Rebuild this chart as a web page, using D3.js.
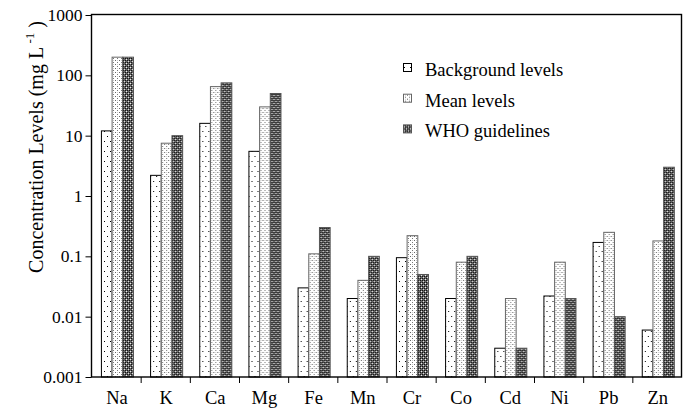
<!DOCTYPE html>
<html>
<head>
<meta charset="utf-8">
<script src="https://cdn.jsdelivr.net/npm/d3@7"></script>
<style>
  body { margin: 0; background: #fff; }
  text { font-family: "Liberation Serif", "Times New Roman", serif; fill: #000; }
</style>
</head>
<body>
<svg id="chart" width="688" height="414"></svg>
<script>
// data
var elements = ["Na", "K", "Ca", "Mg", "Fe", "Mn", "Cr", "Co", "Cd", "Ni", "Pb", "Zn"];
var seriesNames = ["Background levels", "Mean levels", "WHO guidelines"];
var background = [12, 2.2, 16, 5.5, 0.03, 0.02, 0.095, 0.02, 0.003, 0.022, 0.17, 0.006];
var meanLevels = [200, 7.5, 65, 30, 0.11, 0.04, 0.22, 0.08, 0.02, 0.08, 0.25, 0.18];
var who = [200, 10, 75, 50, 0.3, 0.1, 0.05, 0.1, 0.003, 0.02, 0.01, 3];
var yTicks = [0.001, 0.01, 0.1, 1, 10, 100, 1000];

var svg = d3.select("#chart"),
    MARGINS = { top: 15, right: 7, bottom: 37, left: 91 },
    WIDTH = 688,
    HEIGHT = 414;

var x0 = d3.scaleBand()
    .domain(elements)
    .range([MARGINS.left, WIDTH - MARGINS.right])
    .padding(0);

var x1 = d3.scaleBand()
    .domain(seriesNames)
    .range([0, x0.bandwidth()])
    .paddingInner(0)
    .paddingOuter(0.8)
    .align(0.58);

var y = d3.scaleLog()
    .domain([0.001, 1000])
    .range([HEIGHT - MARGINS.bottom, MARGINS.top]);

// fill patterns
var defs = svg.append("defs");

var p1 = defs.append("pattern").attr("id", "pat0")
    .attr("width", 6).attr("height", 10).attr("patternUnits", "userSpaceOnUse");
p1.append("rect").attr("width", 6).attr("height", 10).attr("fill", "#fff");
p1.append("rect").attr("x", 1).attr("y", 1).attr("width", 1).attr("height", 1).attr("fill", "#000");
p1.append("rect").attr("x", 4).attr("y", 6).attr("width", 1).attr("height", 1).attr("fill", "#000");

var p2 = defs.append("pattern").attr("id", "pat1")
    .attr("width", 4).attr("height", 4).attr("patternUnits", "userSpaceOnUse");
p2.append("rect").attr("width", 4).attr("height", 4).attr("fill", "#fff");
p2.append("rect").attr("x", 0).attr("y", 0).attr("width", 1).attr("height", 1).attr("fill", "#666");
p2.append("rect").attr("x", 2).attr("y", 2).attr("width", 1).attr("height", 1).attr("fill", "#777");
p2.append("rect").attr("x", 2).attr("y", 0).attr("width", 1).attr("height", 1).attr("fill", "#ccc");

var p3 = defs.append("pattern").attr("id", "pat2")
    .attr("width", 4).attr("height", 4).attr("patternUnits", "userSpaceOnUse");
p3.append("rect").attr("width", 4).attr("height", 4).attr("fill", "#666");
p3.append("rect").attr("x", 0).attr("y", 0).attr("width", 1).attr("height", 1).attr("fill", "#111");
p3.append("rect").attr("x", 2).attr("y", 0).attr("width", 1).attr("height", 1).attr("fill", "#111");
p3.append("rect").attr("x", 1).attr("y", 1).attr("width", 1).attr("height", 1).attr("fill", "#ddd");
p3.append("rect").attr("x", 0).attr("y", 2).attr("width", 1).attr("height", 1).attr("fill", "#111");
p3.append("rect").attr("x", 2).attr("y", 2).attr("width", 1).attr("height", 1).attr("fill", "#111");
p3.append("rect").attr("x", 3).attr("y", 3).attr("width", 1).attr("height", 1).attr("fill", "#eee");

var fills = ["url(#pat0)", "url(#pat1)", "url(#pat2)"];
var strokes = ["#000", "#666", "#555"];
var allSeries = [background, meanLevels, who];

// bars
var rows = elements.map(function(el, i) {
    return {
        el: el,
        vals: seriesNames.map(function(s, k) { return { s: s, k: k, v: allSeries[k][i] }; })
    };
});

var groups = svg.append("g").selectAll("g")
    .data(rows)
    .join("g")
    .attr("transform", function(d) { return "translate(" + x0(d.el) + ",0)"; });

groups.selectAll("rect")
    .data(function(d) { return d.vals; })
    .join("rect")
    .attr("x", function(d) { return x1(d.s) + 0.5; })
    .attr("y", function(d) { return y(d.v); })
    .attr("width", x1.bandwidth())
    .attr("height", function(d) { return y(0.001) - y(d.v); })
    .attr("fill", function(d) { return fills[d.k]; })
    .attr("stroke", function(d) { return strokes[d.k]; })
    .attr("stroke-width", 1);

// frame
svg.append("rect")
    .attr("x", MARGINS.left + 0.5)
    .attr("y", MARGINS.top - 0.5)
    .attr("width", WIDTH - MARGINS.right - MARGINS.left)
    .attr("height", HEIGHT - MARGINS.bottom - MARGINS.top + 0.5)
    .attr("fill", "none")
    .attr("stroke", "#000")
    .attr("stroke-width", 1.4);

// y axis
var yAxis = d3.axisLeft(y)
    .tickValues(yTicks)
    .tickFormat(function(d) { return d >= 1 ? d3.format("d")(d) : String(d); })
    .tickSize(6)
    .tickPadding(3);

var gy = svg.append("g")
    .attr("transform", "translate(" + (MARGINS.left + 0.5) + ",0)")
    .call(yAxis);
gy.select(".domain").remove();
gy.selectAll("line").attr("stroke", "#000");
gy.selectAll("text")
    .style("font-family", "'Liberation Serif', serif")
    .style("font-size", "17.5px");

// x axis: ticks at category boundaries, labels under the bar groups
var xb = d3.scaleLinear().domain([0, elements.length]).range([MARGINS.left, WIDTH - MARGINS.right]);
var xAxis = d3.axisBottom(xb)
    .tickValues(d3.range(1, elements.length))
    .tickFormat("")
    .tickSize(6);
var gx = svg.append("g")
    .attr("transform", "translate(0.5," + (HEIGHT - MARGINS.bottom) + ")")
    .call(xAxis);
gx.select(".domain").remove();
gx.selectAll("line").attr("stroke", "#000");

svg.append("g").selectAll("text")
    .data(elements)
    .join("text")
    .attr("x", function(d) { return x0(d) + x1(seriesNames[1]) + x1.bandwidth() / 2; })
    .attr("y", 404)
    .attr("text-anchor", "middle")
    .style("font-size", "18.5px")
    .text(function(d) { return d; });

// y title
var title = svg.append("text")
    .attr("transform", "translate(43,147) rotate(-90)")
    .attr("text-anchor", "middle")
    .style("font-size", "20px");
title.append("tspan").text("Concentration Levels (mg L");
title.append("tspan").attr("dy", -9).style("font-size", "13px").text(" -1");
title.append("tspan").attr("dy", 9).text(" )");

// legend
var legend = svg.append("g").selectAll("g")
    .data(seriesNames)
    .join("g")
    .attr("transform", function(d, i) { return "translate(403," + (76 + i * 30.7) + ")"; });

legend.append("rect")
    .attr("x", 0.5).attr("y", -12.5)
    .attr("width", 8).attr("height", 8)
    .attr("fill", function(d, i) { return fills[i]; })
    .attr("stroke", function(d, i) { return strokes[i]; });

legend.append("text")
    .attr("x", 22)
    .attr("y", 0)
    .style("font-size", "18.5px")
    .text(function(d) { return d; });
</script>
</body>
</html>
